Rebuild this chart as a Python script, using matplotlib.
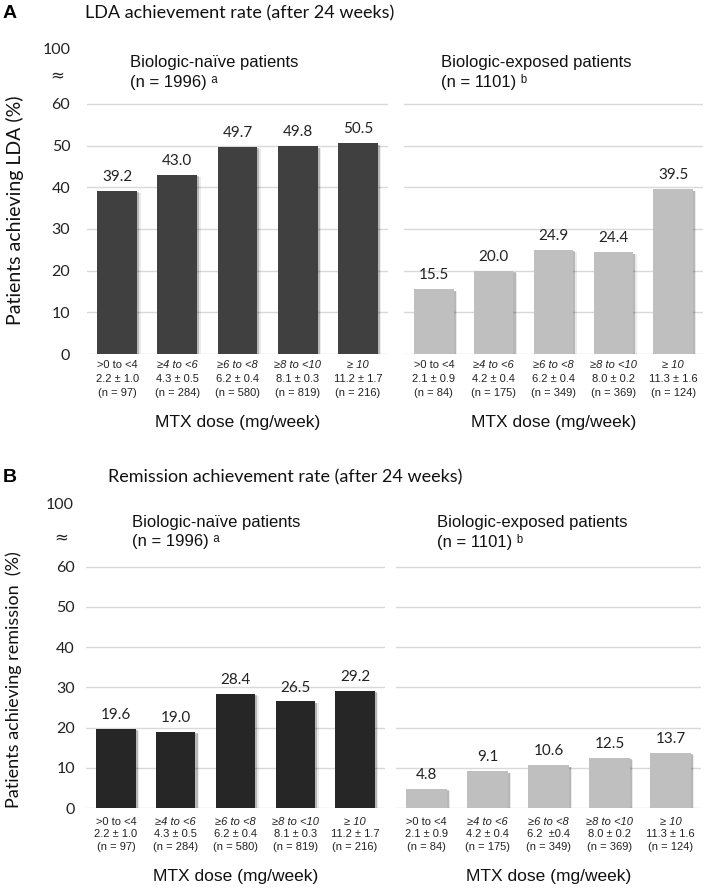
import matplotlib
matplotlib.use("Agg")
import matplotlib.pyplot as plt
import numpy as np

# ---------------- data ----------------
dose_ranges = [">0 to <4", "≥4 to <6", "≥6 to <8", "≥8 to <10", "≥ 10"]
naive_dose = ["2.2 ± 1.0", "4.3 ± 0.5", "6.2 ± 0.4", "8.1 ± 0.3", "11.2 ± 1.7"]
naive_n = ["(n = 97)", "(n = 284)", "(n = 580)", "(n = 819)", "(n = 216)"]
exposed_dose_A = ["2.1 ± 0.9", "4.2 ± 0.4", "6.2 ± 0.4", "8.0 ± 0.2", "11.3 ± 1.6"]
exposed_dose_B = ["2.1 ± 0.9", "4.2 ± 0.4", "6.2  ±0.4", "8.0 ± 0.2", "11.3 ± 1.6"]
exposed_n = ["(n = 84)", "(n = 175)", "(n = 349)", "(n = 369)", "(n = 124)"]

lda_naive = [39.2, 43.0, 49.7, 49.8, 50.5]
lda_exposed = [15.5, 20.0, 24.9, 24.4, 39.5]
rem_naive = [19.6, 19.0, 28.4, 26.5, 29.2]
rem_exposed = [4.8, 9.1, 10.6, 12.5, 13.7]

yticks = [0, 10, 20, 30, 40, 50, 60]

NUM_FONT = ["Lato", "DejaVu Sans"]
ARIAL = ["Liberation Sans", "DejaVu Sans"]

W, H = 709, 889
fig = plt.figure(figsize=(W / 100, H / 100), dpi=100)


def px_axes(x0, x1, ybot, ytop):
    return fig.add_axes([x0 / W, 1 - ybot / H, (x1 - x0) / W, (ybot - ytop) / H])


def draw_panel(ax, values, color, ymax, dose_lines, n_lines, show_y, subtitle,
               sub_x, sub_y1, sub_y2, ytick_pad, line_offsets):
    x = np.arange(len(values))
    ax.set_xlim(-0.5, len(values) - 0.5)
    ax.set_ylim(0, ymax)
    for t in yticks:
        ax.axhline(t, color="#d9d9d9", lw=1.0, zorder=0)
    # soft shadow
    ax.bar(x + 0.035, np.array(values) - 0.3, width=0.66, color="#000000",
           alpha=0.22, zorder=1, linewidth=0)
    ax.bar(x + 0.06, np.array(values) - 0.5, width=0.66, color="#000000",
           alpha=0.08, zorder=1, linewidth=0)
    ax.bar(x, values, width=0.66, color=color, zorder=2, linewidth=0)
    for xi, v in zip(x, values):
        ax.annotate(f"{v:.1f}", (xi, v), xytext=(0, 5), textcoords="offset points",
                    ha="center", va="bottom", fontsize=11, family=NUM_FONT,
                    color="#222222")
    for s in ax.spines.values():
        s.set_visible(False)
    ax.set_xticks([])
    ax.tick_params(axis="y", length=0, pad=ytick_pad, labelsize=11.5)
    if show_y:
        ax.set_yticks(yticks)
        ax.set_yticklabels([str(t) for t in yticks], family=NUM_FONT, color="#222222")
    else:
        ax.set_yticks([])
    trans = ax.get_xaxis_transform()
    for i in range(len(values)):
        style = "normal" if i == 0 else "italic"
        texts = [(dose_ranges[i], style), (dose_lines[i], "normal"), (n_lines[i], "normal")]
        for (t, st), off in zip(texts, line_offsets):
            ax.annotate(t, (i, 0), xycoords=trans, xytext=(0, -off * 0.72),
                        textcoords="offset points", ha="center", va="center",
                        fontsize=8, style=st, family=ARIAL, color="#222222")
    ax.annotate("MTX dose (mg/week)", (0.5, 0), xycoords="axes fraction",
                xytext=(0, -69 * 0.72), textcoords="offset points", ha="center",
                va="center", fontsize=12.5, family=ARIAL, color="#111111")
    ax.text(sub_x, sub_y1, subtitle[0], transform=ax.get_yaxis_transform(),
            ha="left", va="center", fontsize=12, family=ARIAL, color="#111111")
    ax.text(sub_x, sub_y2, subtitle[1], transform=ax.get_yaxis_transform(),
            ha="left", va="center", fontsize=12, family=ARIAL, color="#111111")


# ---------------- Panel A ----------------
axA1 = px_axes(87, 388, 354, 354 - 75 * 4.17)
axA2 = px_axes(404, 703, 354, 354 - 75 * 4.17)
draw_panel(axA1, lda_naive, "#404040", 75, naive_dose, naive_n, True,
           ["Biologic-naïve patients", "(n = 1996) ᵃ"], 0.143, 70, 65.2, 12,
           [11, 25, 39])
draw_panel(axA2, lda_exposed, "#bfbfbf", 75, exposed_dose_A, exposed_n, False,
           ["Biologic-exposed patients", "(n = 1101) ᵇ"], 0.124, 70, 65.2, 12,
           [11, 25, 39])
axA1.text(-0.055, 72.9, "100", transform=axA1.get_yaxis_transform(), ha="right",
          va="center", fontsize=11.5, family=NUM_FONT, color="#222222")
axA1.text(-0.075, 66.9, "≈", transform=axA1.get_yaxis_transform(), ha="right",
          va="center", fontsize=12, family=["DejaVu Sans"], color="#222222")

# ---------------- Panel B ----------------
axB1 = px_axes(86, 385, 808, 808 - 76 * 4.02)
axB2 = px_axes(396, 701, 808, 808 - 76 * 4.02)
draw_panel(axB1, rem_naive, "#262626", 76, naive_dose, naive_n, True,
           ["Biologic-naïve patients", "(n = 1996) ᵃ"], 0.154, 71.1, 66.2, 8,
           [14, 26, 39])
draw_panel(axB2, rem_exposed, "#bfbfbf", 76, exposed_dose_B, exposed_n, False,
           ["Biologic-exposed patients", "(n = 1101) ᵇ"], 0.134, 71.1, 66.2, 8,
           [14, 26, 39])
axB1.text(-0.04, 75.4, "100", transform=axB1.get_yaxis_transform(), ha="right",
          va="center", fontsize=11.5, family=NUM_FONT, color="#222222")
axB1.text(-0.06, 67.4, "≈", transform=axB1.get_yaxis_transform(), ha="right",
          va="center", fontsize=12, family=["DejaVu Sans"], color="#222222")

# ---------------- titles & labels ----------------
fig.text(3 / W, 1 - 13 / H, "A", fontsize=14, fontweight="bold", family=ARIAL,
         ha="left", va="center")
fig.text(85 / W, 1 - 13 / H, "LDA achievement rate (after 24 weeks)", fontsize=13,
         family=NUM_FONT, ha="left", va="center", color="#111111")
fig.text(3 / W, 1 - 477 / H, "B", fontsize=14, fontweight="bold", family=ARIAL,
         ha="left", va="center")
fig.text(108 / W, 1 - 477 / H, "Remission achievement rate (after 24 weeks)",
         fontsize=13, family=NUM_FONT, ha="left", va="center", color="#111111")

fig.text(15 / W, 1 - 210 / H, "Patients achieving LDA (%)", rotation=90,
         fontsize=14, family=NUM_FONT, ha="center", va="center", color="#111111")
fig.text(14 / W, 1 - 680 / H, "Patients achieving remission  (%)", rotation=90,
         fontsize=13, family=NUM_FONT, ha="center", va="center", color="#111111")

fig.savefig("out.png", dpi=100)
